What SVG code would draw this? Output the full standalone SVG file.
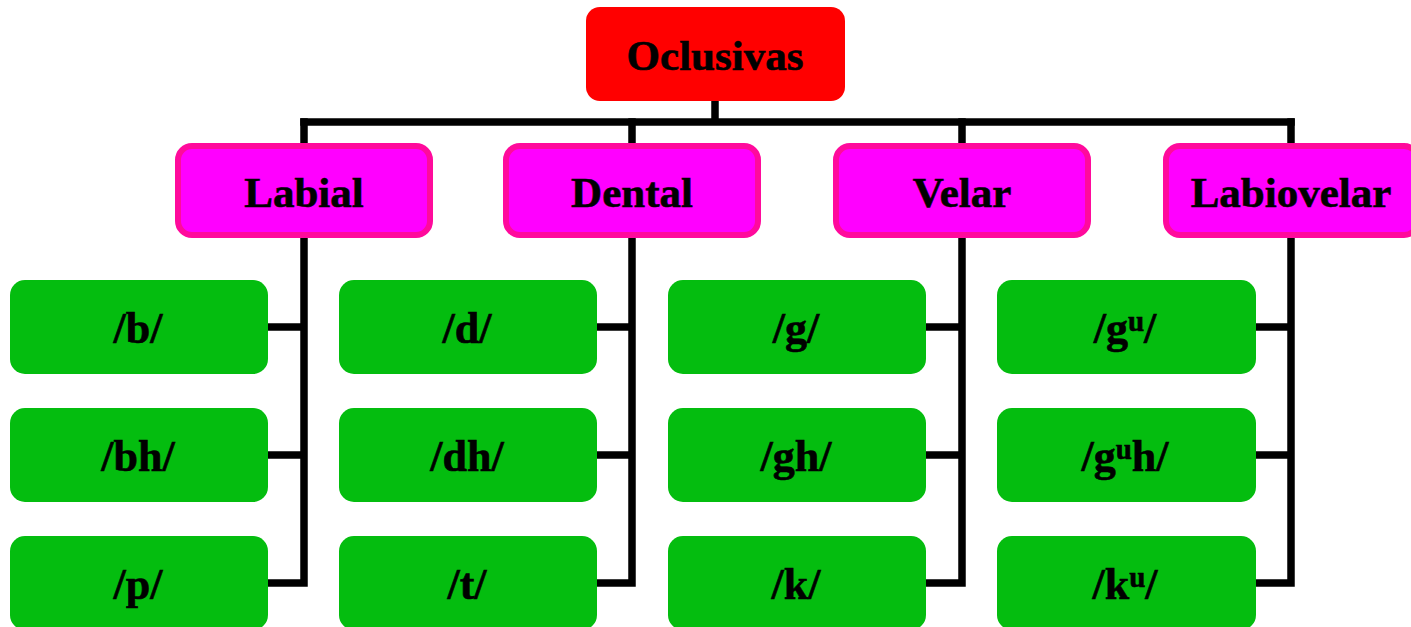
<svg xmlns="http://www.w3.org/2000/svg" width="1411" height="627" viewBox="0 0 1411 627">
<style>
.t{font-family:"Liberation Serif","Times New Roman",serif;font-weight:bold;font-size:43px;fill:#000;stroke:#000;stroke-width:0.6;text-anchor:middle}
.lt{font-size:44px}
.root{fill:#FF0000}
.cat{fill:#FF00FF;stroke:#FF0A9C;stroke-width:6}
.leaf{fill:#04BD0F}
.ln{fill:none;stroke:#000;stroke-width:7.5;stroke-linejoin:miter;stroke-linecap:square}
.sup{font-size:29px}
</style>
<g id="connectors">
<path class="ln" d="M715,101 V122 M304,122 H1291"/>
<path class="ln" d="M304,122 V583 H268 M304,327 H268 M304,455 H268"/>
<path class="ln" d="M632,122 V583 H597 M632,327 H597 M632,455 H597"/>
<path class="ln" d="M962,122 V583 H926 M962,327 H926 M962,455 H926"/>
<path class="ln" d="M1291,122 V583 H1256 M1291,327 H1256 M1291,455 H1256"/>
</g>
<g id="n-oclusivas"><rect class="root" x="586" y="7" width="259" height="94" rx="14"/><text class="t" x="715" y="70">Oclusivas</text></g>
<g id="n-labial"><rect class="cat" x="178" y="146" width="252" height="89" rx="14"/><text class="t" x="304" y="207">Labial</text></g>
<g id="n-dental"><rect class="cat" x="506" y="146" width="252" height="89" rx="14"/><text class="t" x="632" y="207">Dental</text></g>
<g id="n-velar"><rect class="cat" x="836" y="146" width="252" height="89" rx="14"/><text class="t" x="962" y="207">Velar</text></g>
<g id="n-labiovelar"><rect class="cat" x="1166" y="146" width="252" height="89" rx="14"/><text class="t" x="1291" y="207">Labiovelar</text></g>
<g id="n-b"><rect class="leaf" x="10" y="280" width="258" height="94" rx="15"/><text class="t lt" x="138" y="343">/b/</text></g>
<g id="n-bh"><rect class="leaf" x="10" y="408" width="258" height="94" rx="15"/><text class="t lt" x="138" y="471">/bh/</text></g>
<g id="n-p"><rect class="leaf" x="10" y="536" width="258" height="94" rx="15"/><text class="t lt" x="138" y="599">/p/</text></g>
<g id="n-d"><rect class="leaf" x="339" y="280" width="258" height="94" rx="15"/><text class="t lt" x="467" y="343">/d/</text></g>
<g id="n-dh"><rect class="leaf" x="339" y="408" width="258" height="94" rx="15"/><text class="t lt" x="467" y="471">/dh/</text></g>
<g id="n-t"><rect class="leaf" x="339" y="536" width="258" height="94" rx="15"/><text class="t lt" x="467" y="599">/t/</text></g>
<g id="n-g"><rect class="leaf" x="668" y="280" width="258" height="94" rx="15"/><text class="t lt" x="796" y="343">/g/</text></g>
<g id="n-gh"><rect class="leaf" x="668" y="408" width="258" height="94" rx="15"/><text class="t lt" x="796" y="471">/gh/</text></g>
<g id="n-k"><rect class="leaf" x="668" y="536" width="258" height="94" rx="15"/><text class="t lt" x="796" y="599">/k/</text></g>
<g id="n-gu"><rect class="leaf" x="997" y="280" width="259" height="94" rx="15"/><text class="t lt" x="1125" y="343">/g<tspan class="sup" dy="-12">u</tspan><tspan dy="12">/</tspan></text></g>
<g id="n-guh"><rect class="leaf" x="997" y="408" width="259" height="94" rx="15"/><text class="t lt" x="1125" y="471">/g<tspan class="sup" dy="-12">u</tspan><tspan dy="12">h/</tspan></text></g>
<g id="n-ku"><rect class="leaf" x="997" y="536" width="259" height="94" rx="15"/><text class="t lt" x="1125" y="599">/k<tspan class="sup" dy="-12">u</tspan><tspan dy="12">/</tspan></text></g>
</svg>
